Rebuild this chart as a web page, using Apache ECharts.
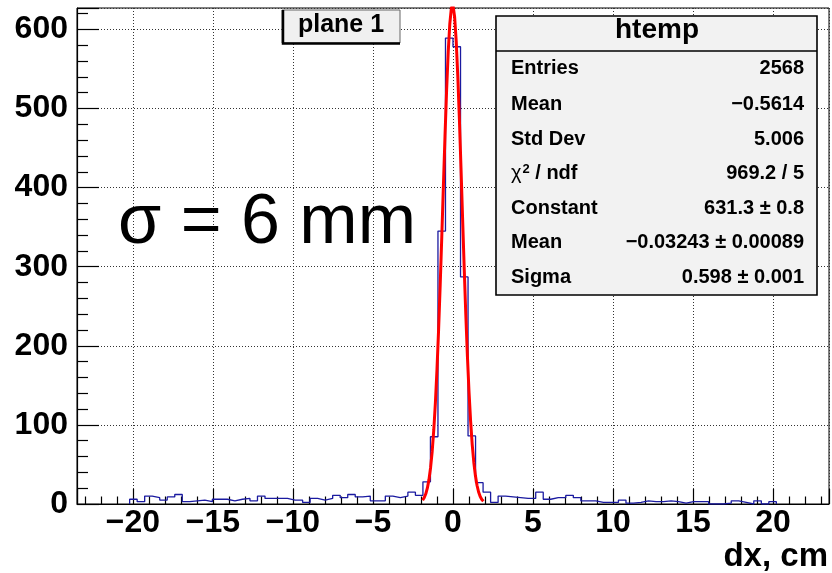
<!DOCTYPE html>
<html><head><meta charset="utf-8">
<script src="https://cdn.jsdelivr.net/npm/echarts@6/dist/echarts.min.js"></script>
<style>html,body{margin:0;padding:0;background:#fff}#c{width:832px;height:573px}</style>
</head><body><div id="c"></div>
<script>
// ---- data ----
const xMin = -23.5, xMax = 23.5, nBins = 100;
const counts = [
  0,0,0,0,0,0,0,6,3,10,
  8,5,9,12,3,4,5,3,6,6,
  4,6,7,4,10,7,7,7,5,5,
  2,7,5,7,11,8,12,9,10,4,
  4,10,8,10,15,11,28,85,345,589,
  578,287,86,27,15,2,10,9,8,7,
  7,15,6,8,8,11,8,4,4,2,
  2,2,5,1,2,4,3,3,4,3,
  1,3,3,3,0,0,1,4,2,0,
  4,0,3,0,0,0,0,0,0,0
];
const fitX = [-1.9,-1.8,-1.7,-1.6,-1.5,-1.4,-1.3,-1.2,-1.1,-1.0,-0.9,-0.8,-0.7,-0.6,-0.5,-0.4,-0.3,-0.2,-0.1,0.0,
  0.1,0.2,0.3,0.4,0.5,0.6,0.7,0.8,0.9,1.0,1.1,1.2,1.3,1.4,1.5,1.6,1.7,1.8,1.9];
const fitY = [4.8,8.0,12.9,20.3,31.1,46.2,66.7,93.9,128.2,170.5,220.4,277.0,338.5,402.3,465.0,522.7,571.1,607.0,627.3,630.4,
  616.0,585.4,540.9,486.1,424.7,360.9,298.2,239.6,187.2,142.2,105.1,75.5,52.8,35.9,23.7,15.2,9.5,5.8,3.4];
const yMax = 627;
const statNames = ['Entries','Mean','Std Dev','{c|\u03c7}{s|2}{n| / ndf}','Constant','Mean','Sigma'];
const statValues = ['2568','\u22120.5614','5.006','969.2 / 5','631.3 \u00b1 0.8','\u22120.03243 \u00b1 0.00089','0.598 \u00b1 0.001'];
const titleText = 'plane 1';
const statTitle = 'htemp';
const noteText = '\u03c3 = 6 mm';
const xTitle = 'dx, cm';

// ---- build ----
const F = "'Liberation Sans', Arial, Helvetica, sans-serif";
const binW = (xMax - xMin) / nBins;
let first = counts.findIndex(v => v > 0);
let last = counts.length - 1 - counts.slice().reverse().findIndex(v => v > 0);
const histPts = [[xMin + first * binW, 0]];
for (let i = first; i <= last; i++) {
  const x0 = xMin + i * binW;
  histPts.push([x0, counts[i]], [x0 + binW, counts[i]]);
}
histPts.push([xMin + (last + 1) * binW, 0]);
const fitPts = fitX.map((x, i) => [x, fitY[i]]);

const rowY = [68, 104, 139, 173.5, 208, 242.5, 277];
const graphics = [];
// stats box
graphics.push({type:'rect', shape:{x:496, y:16, width:321, height:279}, style:{fill:'#f2f2f2', stroke:'#000', lineWidth:1.6}, z:100});
graphics.push({type:'line', shape:{x1:496, y1:51, x2:817, y2:51}, style:{stroke:'#000', lineWidth:1.6}, z:101});
graphics.push({type:'text', x:657, y:30, style:{text:statTitle, font:'bold 28px ' + F, fill:'#000', align:'center', verticalAlign:'middle'}, z:102});
statNames.forEach((n, i) => {
  graphics.push({type:'text', x:511, y:rowY[i], style:{text:n, font:'bold 20px ' + F, fill:'#000', align:'left', verticalAlign:'middle',
    rich:{c:{font:'20px ' + F, fill:'#000'}, s:{font:'bold 13px ' + F, fill:'#000', padding:[0,0,9,1]}, n:{font:'bold 20px ' + F, fill:'#000'}}}, z:102});
  graphics.push({type:'text', x:804, y:rowY[i], style:{text:statValues[i], font:'bold 20px ' + F, fill:'#000', align:'right', verticalAlign:'middle'}, z:102});
});
// title box
graphics.push({type:'rect', shape:{x:282, y:10, width:118, height:33}, style:{fill:'#f0f0f0', stroke:'#666', lineWidth:1}, z:100});
graphics.push({type:'polyline', shape:{points:[[283,10],[283,43.5],[400,43.5]]}, style:{stroke:'#000', lineWidth:2.5, fill:null}, z:101});
graphics.push({type:'text', x:341, y:25, style:{text:titleText, font:'bold 25px ' + F, fill:'#000', align:'center', verticalAlign:'middle'}, z:102});
// sigma note
graphics.push({type:'text', x:118, y:224, style:{text:noteText, font:'70px ' + F, fill:'#000', align:'left', verticalAlign:'middle'}, z:102});
// x title
graphics.push({type:'text', x:828, y:557, style:{text:xTitle, font:'bold 33px ' + F, fill:'#000', align:'right', verticalAlign:'middle'}, z:102});

const minus = v => String(v).replace('-', '\u2212');
const chart = echarts.init(document.getElementById('c'), null, {renderer:'canvas'});
chart.setOption({
  animation:false,
  backgroundColor:'#fff',
  grid:{left:77, right:3, top:8, bottom:69, show:true, borderColor:'#000', borderWidth:1, backgroundColor:'transparent'},
  xAxis:{type:'value', min:xMin, max:xMax, minInterval:5, maxInterval:5, splitNumber:10,
    axisLine:{show:true, onZero:false, lineStyle:{color:'#000', width:1.2}},
    axisTick:{show:true, inside:true, length:15, lineStyle:{color:'#000', width:1.2}},
    minorTick:{show:true, splitNumber:5, length:7.5, lineStyle:{color:'#000', width:1.2}},
    splitLine:{show:true, lineStyle:{color:'#333', type:[1,2], width:1}},
    minorSplitLine:{show:false},
    axisLabel:{showMinLabel:false, showMaxLabel:false, margin:3, fontFamily:F, fontWeight:'bold', fontSize:32, color:'#000', formatter:minus}
  },
  yAxis:{type:'value', min:0, max:yMax, interval:100,
    axisLine:{show:true, onZero:false, lineStyle:{color:'#000', width:1.2}},
    axisTick:{show:true, inside:true, length:22, lineStyle:{color:'#000', width:1.2}},
    minorTick:{show:true, splitNumber:5, length:11, lineStyle:{color:'#000', width:1.2}},
    splitLine:{show:true, lineStyle:{color:'#333', type:[1,2], width:1}},
    axisLabel:{showMaxLabel:false, margin:9, fontFamily:F, fontWeight:'bold', fontSize:32, color:'#000'}
  },
  series:[
    {type:'line', data:histPts, showSymbol:false, symbol:'none', lineStyle:{color:'#1a1aa0', width:1.3}, clip:true, z:3},
    {type:'line', data:fitPts, showSymbol:false, symbol:'none', smooth:false, lineStyle:{color:'#ff0000', width:3}, clip:true, z:4}
  ],
  graphic:graphics
});
</script></body></html>
